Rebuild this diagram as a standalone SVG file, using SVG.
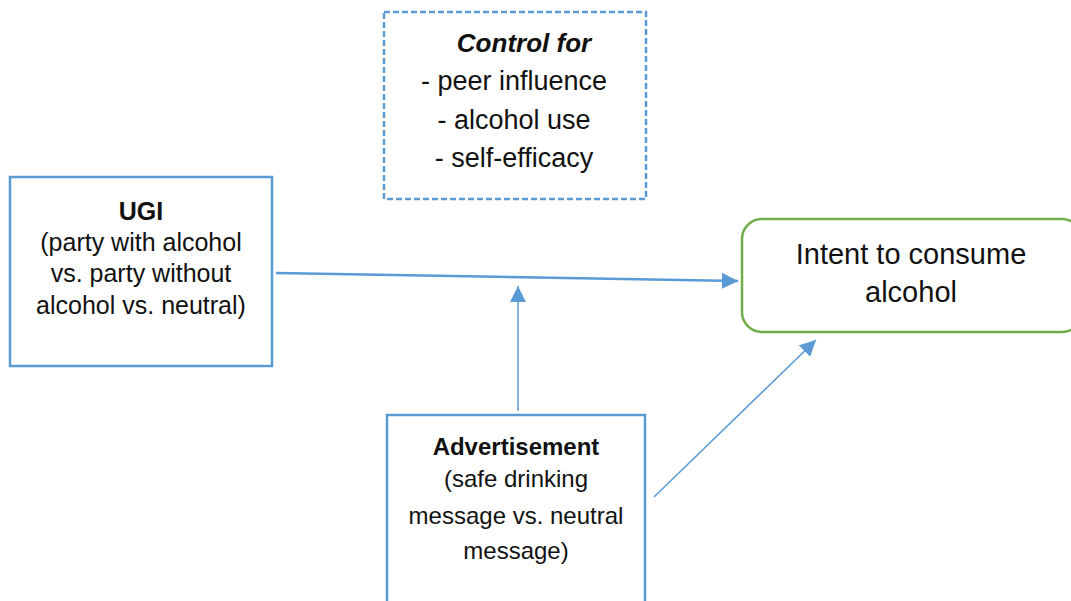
<svg xmlns="http://www.w3.org/2000/svg" width="1071" height="601" viewBox="0 0 1071 601">
<style>
.t{font-family:"Liberation Sans",Arial,sans-serif;fill:#111;text-anchor:middle}
.b{font-weight:bold}
.box{fill:#fff;stroke:#5b9bd5;stroke-width:2.5}
.c{stroke:#5b9bd5;fill:none}
</style>
<defs>
<marker id="ah2" viewBox="0 0 10 10" refX="10" refY="5" markerWidth="16" markerHeight="16" markerUnits="userSpaceOnUse" orient="auto">
<path d="M0,0 L10,5 L0,10 z" fill="#5b9bd5"/>
</marker>
</defs>
<rect width="1071" height="601" fill="#fff"/>
<g id="control" font-size="27">
<rect x="384" y="12" width="262" height="187" fill="#fff" stroke="#5b9bd5" stroke-width="2.5" stroke-dasharray="6,3"/>
<text class="t b" x="524" y="52" font-size="26" font-style="italic">Control for</text>
<text class="t" x="514" y="90">- peer influence</text>
<text class="t" x="514" y="129">- alcohol use</text>
<text class="t" x="514" y="167">- self-efficacy</text>
</g>
<g id="ugi" font-size="25">
<rect class="box" x="10" y="177" width="262" height="189"/>
<text class="t b" x="141" y="220">UGI</text>
<text class="t" x="141" y="251">(party with alcohol</text>
<text class="t" x="141" y="282">vs. party without</text>
<text class="t" x="141" y="314">alcohol vs. neutral)</text>
</g>
<g id="intent" font-size="29">
<rect x="742" y="219" width="340" height="113" rx="20" fill="#fff" stroke="#70ad47" stroke-width="2.5"/>
<text class="t" x="911" y="264">Intent to consume</text>
<text class="t" x="911" y="302">alcohol</text>
</g>
<g id="advertisement" font-size="24">
<rect class="box" x="387" y="415" width="258" height="200"/>
<text class="t b" x="516" y="455">Advertisement</text>
<text class="t" x="516" y="487">(safe drinking</text>
<text class="t" x="516" y="524">message vs. neutral</text>
<text class="t" x="516" y="559">message)</text>
</g>
<g id="connectors">
<line class="c" x1="276" y1="273" x2="738" y2="281" stroke-width="2.5" marker-end="url(#ah2)"/>
<line class="c" x1="518" y1="411" x2="518" y2="286" stroke-width="1.5" marker-end="url(#ah2)"/>
<line class="c" x1="654" y1="497" x2="816" y2="340" stroke-width="1.5" marker-end="url(#ah2)"/>
</g>
</svg>
